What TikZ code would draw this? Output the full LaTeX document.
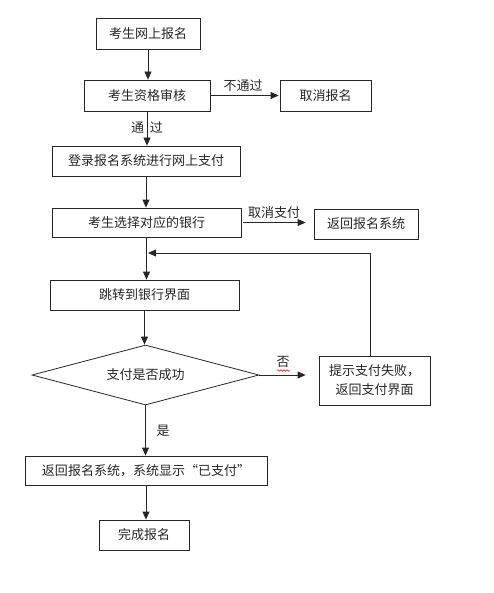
\documentclass[tikz,border=0pt]{standalone}
\usepackage{fontspec}
\newfontfamily\cjk{Noto Sans CJK SC}
\usetikzlibrary{arrows.meta,shapes.geometric,decorations.pathmorphing}
\begin{document}
\begin{tikzpicture}[x=1bp,y=-1bp,
  font=\cjk\fontsize{13bp}{19bp}\selectfont,
  box/.style={draw=black!85,line width=0.8bp,rectangle,inner sep=0pt,text=black!85},
  dia/.style={draw=black!85,line width=0.8bp,diamond,inner sep=0pt,aspect=3.8,text=black!85},
  arr/.style={draw=black!85,line width=0.8bp,-{Triangle[length=8bp,width=7bp]}},
  lbl/.style={inner sep=0pt,text=black!85}]
\useasboundingbox (0,0) rectangle (494,593);
\node[box,minimum width=104bp,minimum height=31bp] (b1) at (148,33.5) {考生网上报名};
\node[box,minimum width=126bp,minimum height=31bp] (b2) at (147,95.5) {考生资格审核};
\node[box,minimum width=91bp,minimum height=31bp] (b3) at (325.5,95.5) {取消报名};
\node[box,minimum width=188bp,minimum height=30bp] (b4) at (146,161) {登录报名系统进行网上支付};
\node[box,minimum width=189bp,minimum height=29bp] (b5) at (146.5,222.5) {考生选择对应的银行};
\node[box,minimum width=104bp,minimum height=30bp] (b6) at (366,224) {返回报名系统};
\node[box,minimum width=189bp,minimum height=30bp] (b7) at (144.5,295) {跳转到银行界面};
\node[dia,minimum width=227bp,minimum height=60bp] (d) at (145.5,375) {支付是否成功};
\node[box,minimum width=111bp,minimum height=49bp,align=center] (b8) at (374.5,380.5) {提示支付失败，\\返回支付界面};
\node[box,minimum width=242bp,minimum height=29bp] (b9) at (146,470.5) {返回报名系统，系统显示“已支付”};
\node[box,minimum width=90bp,minimum height=30bp] (b10) at (144,535) {完成报名};

\coordinate (j) at (148,253);

\draw[arr] (b1.south) -- (b1.south |- b2.north);
\draw[arr] (b2.east) -- ([xshift=-1bp]b3.west);
\draw[arr] (b2.south) -- (b2.south |- b4.north);
\draw[arr] (b4.south) -- (b4.south |- b5.north);
\draw[arr] ([xshift=2bp]b5.east) -- ([xshift=-8bp]b6.west |- b5.east);
\draw[arr] (b5.south) -- (b5.south |- b7.north);
\draw[arr] ([xshift=-4.5bp]b8.north) |- (j);
\draw[arr] (b7.south) -- (b7.south |- d.north);
\draw[arr] (d.east) -- ([xshift=-13bp]b8.west |- d.east);
\draw[arr] (d.south) -- (d.south |- b9.north);
\draw[arr] (b9.south) -- (b9.south |- b10.north);

\node[lbl] (l1) at (243,86) {不通过};
\node[lbl] (l2) at (147,128) {通\hspace{6bp}过};
\node[lbl] (l3) at (274,213) {取消支付};
\node[lbl] (l4) at (283,362) {否};
\node[lbl] (l5) at (163,431) {是};
\draw[red,line width=0.5bp,decorate,decoration={snake,amplitude=0.8bp,segment length=3bp}] (277,370.5) -- (290,370.5);
\end{tikzpicture}
\end{document}
